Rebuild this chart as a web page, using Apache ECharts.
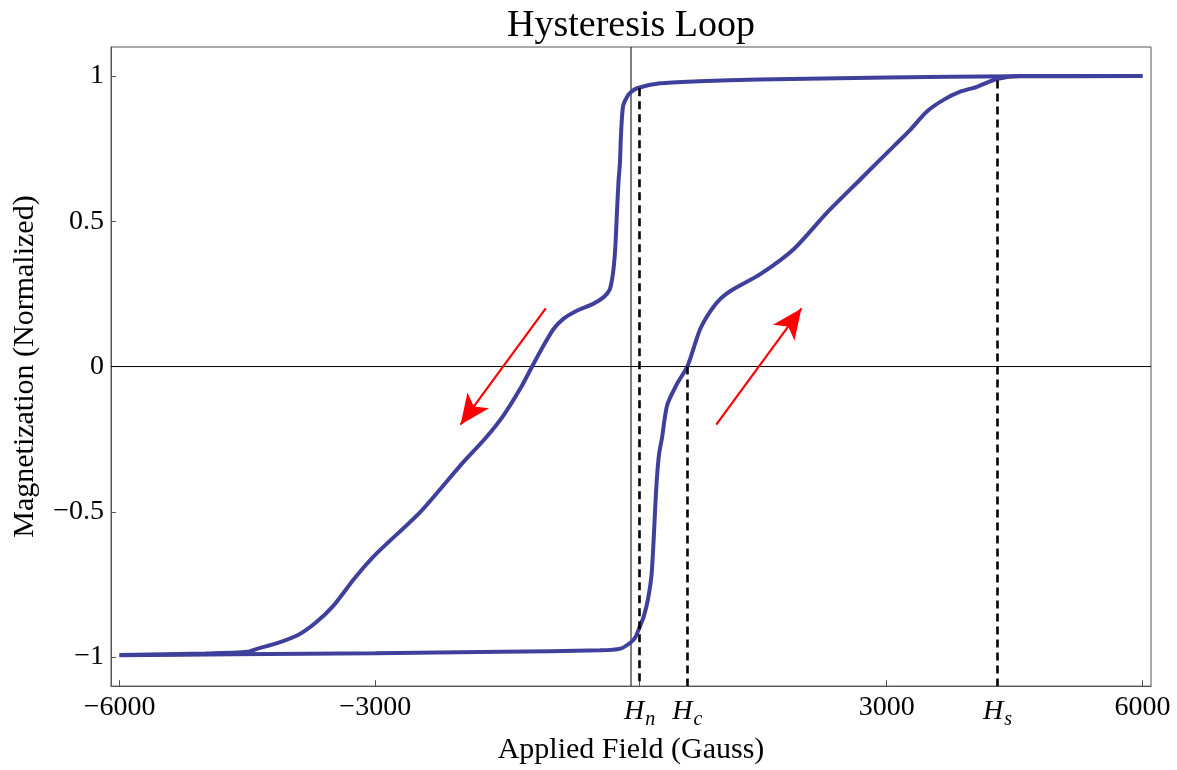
<!DOCTYPE html>
<html>
<head>
<meta charset="utf-8">
<script src="https://cdn.jsdelivr.net/npm/echarts@6/dist/echarts.min.js"></script>
<style>
  html, body { margin: 0; padding: 0; background: #fff; }
  #chart { width: 1177px; height: 770px; }
</style>
</head>
<body>
<div id="chart"></div>
<script>
// Descending field sweep (+6000 G down to -6000 G)
const downField = [6000, 4500, 3000, 1500, 800, 340, 70, 0, -46, -90, -105, -120, -130, -145, -165, -183, -200, -222, -250, -320, -450, -630, -790, -906, -1024, -1160, -1297, -1493, -1708, -2000, -2470, -2990, -3240, -3490, -3700, -3900, -4160, -4370, -4500, -5000, -6000];
const downMag   = [1.0, 0.999, 0.995, 0.988, 0.982, 0.975, 0.958, 0.945, 0.929, 0.9, 0.861, 0.78, 0.70, 0.644, 0.53, 0.415, 0.35, 0.30, 0.265, 0.239, 0.215, 0.193, 0.165, 0.13, 0.073, 0.0, -0.075, -0.167, -0.247, -0.34, -0.5, -0.645, -0.728, -0.823, -0.882, -0.923, -0.953, -0.970, -0.982, -0.988, -0.993];

// Ascending field sweep (-6000 G up to +6000 G)
const upField = [-6000, -4660, -3000, -1520, -360, -125, 0, 51, 101, 150, 200, 240, 265, 285, 305, 330, 364, 423, 530, 660, 720, 813, 930, 1048, 1204, 1517, 1908, 2299, 2689, 3080, 3276, 3471, 3666, 3862, 4058, 4292, 4566, 6000];
const upMag   = [-0.994, -0.990, -0.987, -0.982, -0.977, -0.971, -0.949, -0.932, -0.897, -0.86, -0.80, -0.72, -0.60, -0.48, -0.38, -0.30, -0.245, -0.134, -0.065, 0.0, 0.05, 0.130, 0.19, 0.233, 0.267, 0.318, 0.404, 0.53, 0.644, 0.758, 0.815, 0.878, 0.918, 0.946, 0.963, 0.99, 1.0, 1.0];

// Characteristic fields: nucleation, coercive, saturation
const markSubs   = ['n', 'c', 's'];
const markFields = [100, 660, 4300];
const markTops   = [0.958, 0.0, 0.985];

// Sweep-direction arrows: [fromField, fromMag, toField, toMag]
const arrows = [
  [-1000, 0.2, -2000, -0.2],
  [1000, -0.2, 2000, 0.2]
];

// Axis ticks and labels
const xNumTicks  = [-6000, -3000, 3000, 6000];
const xNumLabels = ['\u22126000', '\u22123000', '3000', '6000'];
const yTicks  = [-1, -0.5, 0, 0.5, 1];
const yLabels = ['\u22121', '\u22120.5', '0', '0.5', '1'];

const xMin = -6100, xMax = 6100, yMin = -1.1, yMax = 1.1;
const FONT = "'Liberation Serif', 'Times New Roman', serif";

const xTickVals = xNumTicks.concat(markFields).sort((a, b) => a - b);
function xLabel(v) {
  const i = xNumTicks.indexOf(v);
  if (i >= 0) return xNumLabels[i];
  const j = markFields.indexOf(v);
  if (j >= 0) return '{h|H}{s|' + markSubs[j] + '}';
  return '';
}
function yLabel(v) {
  const i = yTicks.findIndex(t => Math.abs(t - v) < 1e-9);
  return i >= 0 ? yLabels[i] : '';
}

const zip = (xs, ys) => xs.map((x, i) => [x, ys[i]]);

const markLineData = [];
markFields.forEach((f, i) => {
  markLineData.push([
    { coord: [f, markTops[i]], symbol: 'none',
      lineStyle: { color: '#000', width: 2.6, type: [8, 5] } },
    { coord: [f, yMin], symbol: 'none' }
  ]);
});
arrows.forEach(a => {
  markLineData.push([
    { coord: [a[0], a[1]], symbol: 'none',
      lineStyle: { color: '#ff0000', width: 2.2, type: 'solid' } },
    { coord: [a[2], a[3]], symbol: 'arrow', symbolSize: [20, 30] }
  ]);
});

const chart = echarts.init(document.getElementById('chart'), null, { renderer: 'canvas' });
chart.setOption({
  animation: false,
  backgroundColor: '#fff',
  title: {
    text: 'Hysteresis Loop',
    left: 631,
    textAlign: 'center',
    top: 7,
    padding: 0,
    textStyle: { fontFamily: FONT, fontSize: 38, fontWeight: 'normal', color: '#000' }
  },
  grid: {
    left: 111, right: 26, top: 47, bottom: 80,
    show: true, borderColor: '#555', borderWidth: 1, backgroundColor: 'transparent'
  },
  xAxis: {
    type: 'value', min: xMin, max: xMax,
    name: 'Applied Field (Gauss)', nameLocation: 'middle', nameGap: 43,
    nameTextStyle: { fontFamily: FONT, fontSize: 30, color: '#000' },
    splitLine: { show: false },
    axisLine: { show: true, onZero: false, lineStyle: { color: '#555', width: 1 } },
    axisTick: { show: true, inside: true, length: 6, customValues: xTickVals, lineStyle: { color: '#555' } },
    axisLabel: {
      customValues: xTickVals, margin: 8, formatter: xLabel,
      fontFamily: FONT, fontSize: 28, color: '#000',
      rich: {
        h: { fontFamily: FONT, fontSize: 28, fontStyle: 'italic', color: '#000' },
        s: { fontFamily: FONT, fontSize: 20, fontStyle: 'italic', color: '#000', padding: [16, 0, 0, 1] }
      }
    }
  },
  yAxis: {
    type: 'value', min: yMin, max: yMax,
    name: 'Magnetization (Normalized)', nameLocation: 'middle', nameGap: 71, nameRotate: 90,
    nameTextStyle: { fontFamily: FONT, fontSize: 30, color: '#000' },
    splitLine: { show: false },
    axisLine: { show: true, onZero: false, lineStyle: { color: '#555', width: 1 } },
    axisTick: { show: true, inside: true, length: 5, customValues: yTicks, lineStyle: { color: '#555' } },
    axisLabel: {
      customValues: yTicks, margin: 7, formatter: yLabel,
      fontFamily: FONT, fontSize: 28, color: '#000'
    }
  },
  series: [
    {
      name: 'zero-x', type: 'line', z: 1, silent: true, showSymbol: false,
      data: [[0, yMin], [0, yMax]],
      lineStyle: { color: '#000', width: 1 }
    },
    {
      name: 'zero-y', type: 'line', z: 1, silent: true, showSymbol: false,
      data: [[xMin, 0], [xMax, 0]],
      lineStyle: { color: '#000', width: 1 }
    },
    {
      name: 'descending', type: 'line', z: 3, showSymbol: false, smooth: 0.25,
      data: zip(downField, downMag),
      lineStyle: { color: '#3f3f9c', width: 4 }
    },
    {
      name: 'ascending', type: 'line', z: 3, showSymbol: false, smooth: 0.25,
      data: zip(upField, upMag),
      lineStyle: { color: '#3f3f9c', width: 4 },
      markLine: { silent: true, animation: false, label: { show: false }, data: markLineData }
    }
  ]
});
</script>
</body>
</html>
